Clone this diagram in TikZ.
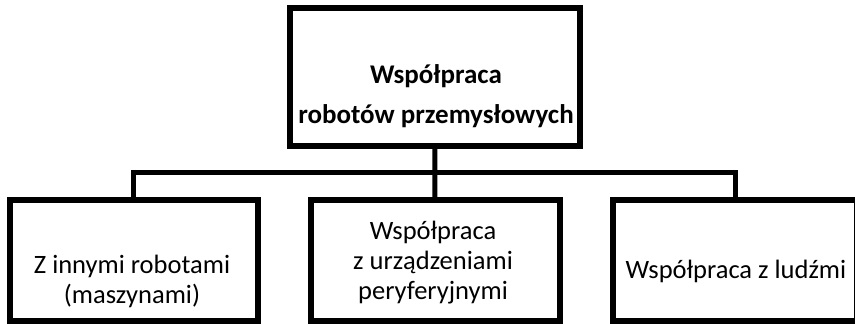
\documentclass[tikz,border=0pt]{standalone}
\usepackage{fontspec}
\setmainfont{Carlito}
\begin{document}
\begin{tikzpicture}[x=1pt,y=-1pt,
  boxnode/.style={draw=black,line width=6pt,rectangle,inner sep=0pt,outer sep=0pt,line join=miter},
  link/.style={draw=black,line width=5pt,line join=miter},
  labeltxt/.style={inner sep=0pt,align=center,anchor=base,font=\fontsize{26.5}{30}\selectfont},
  toptxt/.style={inner sep=0pt,align=center,anchor=base,font=\fontsize{27}{40}\selectfont\bfseries}]
\useasboundingbox (0,0) rectangle (855,324);
\clip (0,0) rectangle (855,324);
% boxes
\node[boxnode,minimum width=290.5pt,minimum height=138pt] (top) at (434.75,77) {};
\node[boxnode,minimum width=247.5pt,minimum height=121.5pt] (left) at (133.75,260.25) {};
\node[boxnode,minimum width=249pt,minimum height=121.5pt] (mid) at (435,260.25) {};
\node[boxnode,minimum width=244pt,minimum height=121.5pt] (right) at (735,260.25) {};
% connectors
\coordinate (bus) at (435,172.5);
\draw[link] (top.south) -- (mid.north);
\draw[link] (left.north) |- (bus) -| (right.north);
% texts
\node[toptxt] (toplabel) at (436,123) {Współpraca\\robotów przemysłowych};
\node[labeltxt] (leftlabel) at (132,303) {Z innymi robotami\\(maszynami)};
\node[labeltxt] (midlabel) at (433,299) {Współpraca\\z urządzeniami\\peryferyjnymi};
\node[labeltxt] (rightlabel) at (736,278) {Współpraca z ludźmi};
\end{tikzpicture}
\end{document}
